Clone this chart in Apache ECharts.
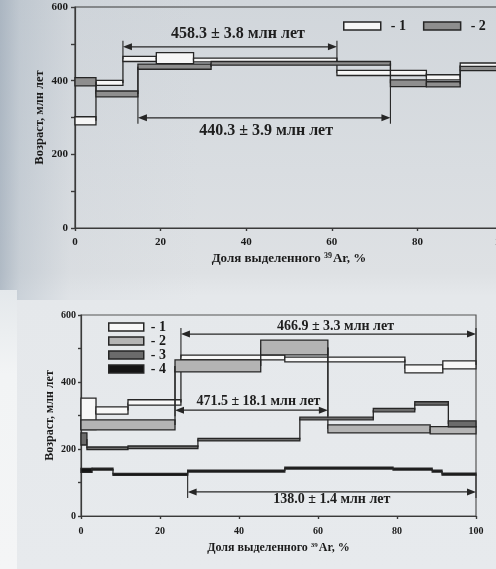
<!DOCTYPE html>
<html>
<head>
<meta charset="utf-8">
<script src="https://cdn.jsdelivr.net/npm/echarts@6/dist/echarts.min.js"></script>
<style>
html,body{margin:0;padding:0;}
#wrap{position:relative;width:496px;height:569px;overflow:hidden;
  background:linear-gradient(180deg,#d1d6db 0%,#d9dde1 30%,#dee1e4 48%,#e5e8eb 52%,#e7eaed 100%);}
#tint{position:absolute;left:0;top:0;width:496px;height:300px;
  background:linear-gradient(90deg,rgba(145,160,176,0.6) 0%,rgba(165,178,191,0.4) 4%,rgba(195,202,210,0.18) 14%,rgba(220,224,228,0) 40%);}
#strip{position:absolute;left:0;top:290px;width:17px;height:279px;background:linear-gradient(180deg,#e4e8eb 0%,#f2f4f5 30%,#f4f5f6 100%);}
#chart{position:absolute;left:0;top:0;width:496px;height:569px;}
</style>
</head>
<body>
<div id="wrap"><div id="tint"></div><div id="strip"></div><div id="chart"></div></div>
<script>
// ---------- DATA ----------
// Top chart: step boundaries (% 39Ar released), ages and errors (Ma)
const topBounds1 = [0, 4.9, 11.2, 19, 27.7, 61.2, 82.1, 90, 100];
const topAges1   = [291, 394, 459, 461, 456, 421, 409, 442];
const topErrs1   = [11, 7, 7, 15, 5, 7, 7, 6];
const topBounds2 = [0, 4.9, 14.7, 31.8, 73.7, 82.1, 90, 100];
const topAges2   = [397, 364, 438, 447, 393, 390, 433];
const topErrs2   = [11, 8, 7, 5, 9, 7, 6];

// Bottom chart
const botBounds1 = [0, 3.8, 11.9, 25.3, 51.6, 82, 91.6, 100];
const botAges1   = [305, 315, 339, 473, 467, 439, 451];
const botErrs1   = [47, 11, 8, 7, 7, 12, 12];
const botBounds2 = [0, 23.8, 45.5, 62.5, 88.4, 100];
const botAges2   = [272, 448, 503, 260, 256];
const botErrs2   = [15, 18, 22, 12, 11];
const botBounds3 = [0, 1.5, 11.9, 29.6, 55.4, 74, 84.5, 93, 100];
const botAges3   = [230, 202, 205, 228, 291, 316, 336, 275];
const botErrs3   = [18, 4, 4, 4, 4, 5, 5, 9];
const botBounds4 = [0, 2.8, 8.1, 27, 51.6, 79, 88.9, 91.4, 100];
const botAges4   = [136, 140, 124, 134, 143, 140, 134, 125];
const botErrs4   = [6, 3, 3, 3, 3, 3, 3, 3];

// Plateau annotations
const topPlateauText   = ['458.3 ± 3.8 млн лет', '440.3 ± 3.9 млн лет'];
const topPlateauStart  = [11.2, 14.7];
const topPlateauEnd    = [61.2, 73.7];
const topPlateauLevel  = [492, 299];
const topPlateauSeries = [0, 1];
const botPlateauText   = ['466.9 ± 3.3 млн лет', '471.5 ± 18.1 млн лет', '138.0 ± 1.4 млн лет'];
const botPlateauStart  = [25.3, 23.8, 27];
const botPlateauEnd    = [100, 62.5, 100];
const botPlateauLevel  = [543, 316, 72];
const botPlateauSeries = [0, 1, 3];

// Axis labels
const xTitle = 'Доля выделенного {sup|39}Ar, %';
const yTitle = 'Возраст, млн лет';
const topLegendNames = ['1', '2'];
const botLegendNames = ['1', '2', '3', '4'];

// ---------- STYLE ----------
const SERIF = '"Liberation Serif","DejaVu Serif",serif';
const INK = '#262626';
const topFills = ['#f6f6f6', '#8e8e8e'];
const botFills = ['#f8f8f8', '#b4b4b4', '#6b6b6b', '#141414'];

const topSteps = [[topBounds1, topAges1, topErrs1], [topBounds2, topAges2, topErrs2]];
const botSteps = [[botBounds1, botAges1, botErrs1], [botBounds2, botAges2, botErrs2],
                  [botBounds3, botAges3, botErrs3], [botBounds4, botAges4, botErrs4]];

function stepData(s) {
  const b = s[0], a = s[1], e = s[2];
  return a.map((v, i) => [b[i], b[i + 1], v, e[i]]);
}

function stepRender(ages, fill) {
  return function (params, api) {
    const i = params.dataIndex;
    const x0 = api.value(0), x1 = api.value(1), a = api.value(2), e = api.value(3);
    const p0 = api.coord([x0, a + e]);
    const p1 = api.coord([x1, a - e]);
    const children = [];
    if (i > 0) {
      const q0 = api.coord([x0, ages[i - 1]]);
      const q1 = api.coord([x0, a]);
      children.push({type: 'line', shape: {x1: q0[0], y1: q0[1], x2: q1[0], y2: q1[1]},
        style: {stroke: INK, lineWidth: 1.3}});
    }
    children.push({type: 'rect',
      shape: {x: p0[0], y: p0[1], width: p1[0] - p0[0], height: p1[1] - p0[1]},
      style: {fill: fill, stroke: INK, lineWidth: 1.3}});
    return {type: 'group', children: children};
  };
}

function anchorAge(steps, x, side) {
  const b = steps[0], a = steps[1];
  for (let j = 0; j < a.length; j++) {
    if (side === 'start' && Math.abs(b[j] - x) < 1e-6) return a[j];
    if (side === 'end' && Math.abs(b[j + 1] - x) < 1e-6) return a[j];
  }
  return null;
}

function plateauRender(texts, stepsArr, seriesIdx, textCfg) {
  return function (params, api) {
    const k = params.dataIndex;
    const x0 = api.value(0), x1 = api.value(1), lv = api.value(2);
    const p0 = api.coord([x0, lv]), p1 = api.coord([x1, lv]);
    const L = 9, H = 3.5;
    const kids = [];
    kids.push({type: 'line', shape: {x1: p0[0] + L - 1, y1: p0[1], x2: p1[0] - L + 1, y2: p1[1]},
      style: {stroke: INK, lineWidth: 1.2}});
    kids.push({type: 'polygon', shape: {points: [[p0[0], p0[1]], [p0[0] + L, p0[1] - H], [p0[0] + L, p0[1] + H]]},
      style: {fill: INK}});
    kids.push({type: 'polygon', shape: {points: [[p1[0], p1[1]], [p1[0] - L, p1[1] - H], [p1[0] - L, p1[1] + H]]},
      style: {fill: INK}});
    const steps = stepsArr[seriesIdx[k]];
    [[x0, 'start', p0], [x1, 'end', p1]].forEach(function (d) {
      const ag = anchorAge(steps, d[0], d[1]);
      if (ag === null) return;
      const q = api.coord([d[0], ag]);
      const dir = q[1] > d[2][1] ? -1 : 1; // overshoot away from steps
      kids.push({type: 'line', shape: {x1: d[2][0], y1: d[2][1] + dir * 6, x2: q[0], y2: q[1]},
        style: {stroke: INK, lineWidth: 1.1}});
    });
    const c = textCfg[k];
    kids.push({type: 'text', x: (p0[0] + p1[0]) / 2 + c.dx, y: p0[1] + c.dy,
      style: {text: texts[k], fill: '#1e1e1e', font: c.font, align: 'center', verticalAlign: 'middle'}});
    return {type: 'group', children: kids};
  };
}

function axisPair(gridIndex, isX, opts) {
  const common = {gridIndex: gridIndex, type: 'value', min: 0, max: isX ? 100 : 600,
    interval: isX ? 20 : 100, splitLine: {show: false}};
  const main = Object.assign({}, common, {
    axisLine: {show: true, lineStyle: {color: '#3a3a3a', width: 1.2}},
    axisTick: {show: true, length: opts.tick, lineStyle: {color: '#3a3a3a', width: 1.2}},
    axisLabel: {show: true, color: '#1a1a1a', fontFamily: SERIF, fontWeight: 'bold', fontSize: opts.fs,
      margin: opts.margin,
      formatter: isX ? function (v) { return String(v); } : function (v) { return v % 200 === 0 ? String(v) : ''; }},
    name: isX ? xTitle : yTitle, nameLocation: 'middle', nameGap: opts.nameGap, nameMoveOverlap: false,
    nameTextStyle: {color: '#1a1a1a', fontFamily: SERIF, fontWeight: 'bold', fontSize: opts.nfs,
      rich: {sup: {fontSize: opts.nfs - 5, verticalAlign: 'top', fontFamily: SERIF, fontWeight: 'bold', color: '#1a1a1a', padding: [0, 1, 0, 0]}}}
  });
  const mirror = Object.assign({}, common, {
    axisLine: {show: false},
    axisTick: {show: true, inside: true, length: opts.tick, lineStyle: {color: '#3a3a3a', width: 1.2}},
    axisLabel: {show: false}
  });
  return [main, mirror];
}

const tx = axisPair(0, true, {tick: 3, fs: 11, margin: 9, nameGap: 24, nfs: 13});
const ty = axisPair(0, false, {tick: 4, fs: 11, margin: 7, nameGap: 29, nfs: 12.5});
const bx = axisPair(1, true, {tick: 3, fs: 10, margin: 10, nameGap: 26, nfs: 12});
const by = axisPair(1, false, {tick: 3, fs: 10, margin: 5, nameGap: 25, nfs: 12});

const series = [];
topSteps.forEach(function (s, i) {
  series.push({type: 'custom', name: 'A' + topLegendNames[i], xAxisIndex: 0, yAxisIndex: 0,
    renderItem: stepRender(s[1], topFills[i]), data: stepData(s), encode: {x: [0, 1], y: [2]},
    itemStyle: {color: topFills[i], borderColor: INK}, clip: false, silent: true});
});
botSteps.forEach(function (s, i) {
  series.push({type: 'custom', name: 'B' + botLegendNames[i], xAxisIndex: 2, yAxisIndex: 2,
    renderItem: stepRender(s[1], botFills[i]), data: stepData(s), encode: {x: [0, 1], y: [2]},
    itemStyle: {color: botFills[i], borderColor: INK}, clip: false, silent: true});
});
series.push({type: 'custom', xAxisIndex: 0, yAxisIndex: 0, silent: true, clip: false,
  data: topPlateauStart.map((s, i) => [s, topPlateauEnd[i], topPlateauLevel[i]]),
  encode: {x: [0, 1], y: [2]},
  renderItem: plateauRender(topPlateauText, topSteps, topPlateauSeries, [
    {dx: 8, dy: -13, font: 'bold 16px ' + SERIF},
    {dx: 2, dy: 13, font: 'bold 16px ' + SERIF}])});
series.push({type: 'custom', xAxisIndex: 2, yAxisIndex: 2, silent: true, clip: false,
  data: botPlateauStart.map((s, i) => [s, botPlateauEnd[i], botPlateauLevel[i]]),
  encode: {x: [0, 1], y: [2]},
  renderItem: plateauRender(botPlateauText, botSteps, botPlateauSeries, [
    {dx: 7, dy: -8, font: 'bold 14px ' + SERIF},
    {dx: 7, dy: -9, font: 'bold 14px ' + SERIF},
    {dx: 0, dy: 8, font: 'bold 14px ' + SERIF}])});

function legendItem(prefix, n, fill) {
  return {name: prefix + n, icon: 'rect', itemStyle: {color: fill, borderColor: INK, borderWidth: 1.5}};
}

const option = {
  backgroundColor: 'transparent',
  animation: false,
  grid: [
    {left: 75, top: 7, width: 428, height: 221, show: true, borderColor: '#3a3a3a', borderWidth: 1.2,
      backgroundColor: 'transparent', containLabel: false, outerBoundsMode: 'none'},
    {left: 81, top: 315, width: 395, height: 201, show: true, borderColor: '#555', borderWidth: 1.2,
      backgroundColor: 'transparent', containLabel: false, outerBoundsMode: 'none'}
  ],
  xAxis: [tx[0], tx[1], bx[0], bx[1]],
  yAxis: [ty[0], ty[1], by[0], by[1]],
  legend: [
    {left: 338, top: 14, orient: 'horizontal', itemWidth: 37, itemHeight: 8, itemGap: 17,
      selectedMode: false, data: topLegendNames.map((n, i) => legendItem('A', n, topFills[i])),
      formatter: function (n) { return '- ' + n.slice(1); },
      textStyle: {fontFamily: SERIF, fontWeight: 'bold', fontSize: 14, color: '#1a1a1a', padding: [0, 0, 0, 5]}},
    {left: 103, top: 315, orient: 'vertical', itemWidth: 35, itemHeight: 8, itemGap: 0,
      selectedMode: false, data: botLegendNames.map((n, i) => legendItem('B', n, botFills[i])),
      formatter: function (n) { return '- ' + n.slice(1); },
      textStyle: {fontFamily: SERIF, fontWeight: 'bold', fontSize: 14, lineHeight: 13.7, color: '#1a1a1a', padding: [0, 0, 0, 2]}}
  ],
  series: series
};

const chart = echarts.init(document.getElementById('chart'), null, {renderer: 'canvas'});
chart.setOption(option);
</script>
</body>
</html>
